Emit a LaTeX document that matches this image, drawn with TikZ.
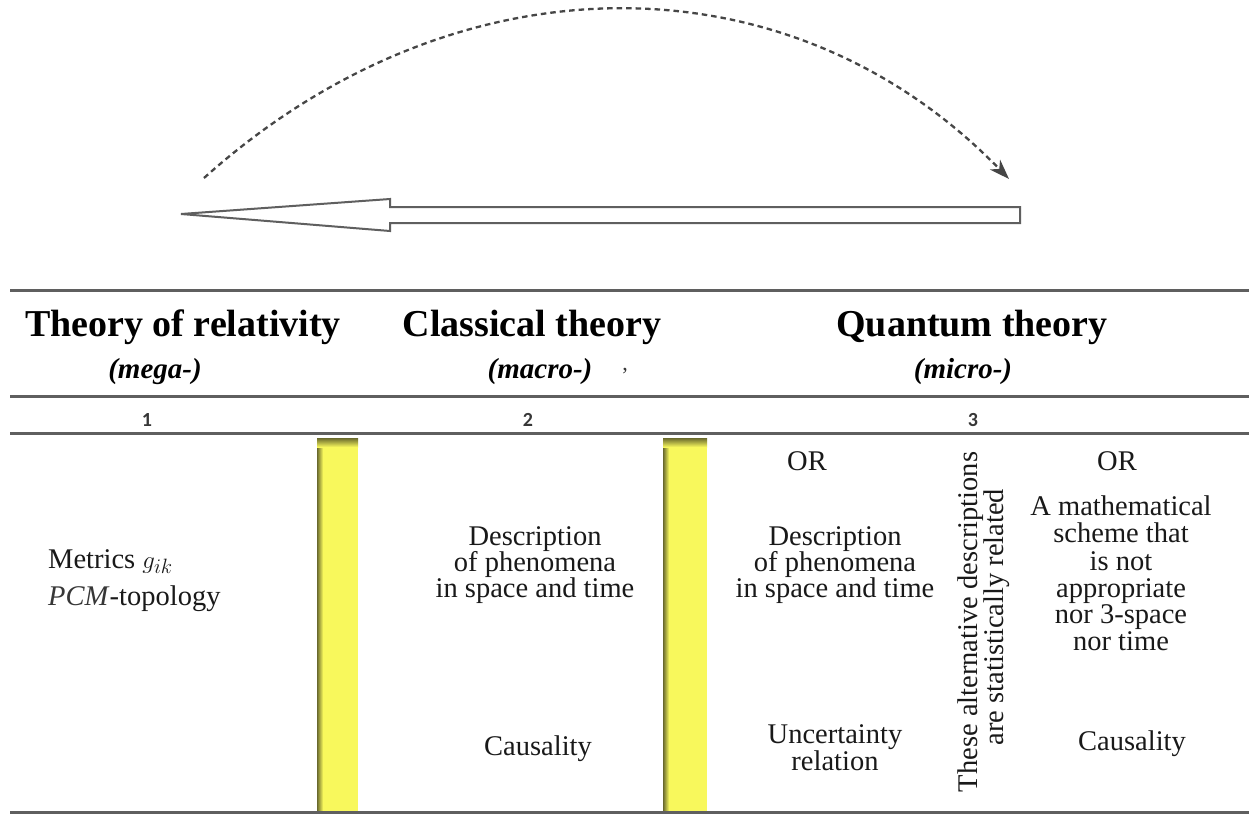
\documentclass[tikz,border=0pt]{standalone}
\usepackage{fontspec}
\setmainfont{Liberation Serif}
\newfontfamily\numfont{Carlito}
\usetikzlibrary{arrows.meta}
\definecolor{barY}{RGB}{248,248,92}
\definecolor{barD}{RGB}{105,105,45}
\definecolor{rulec}{RGB}{95,95,95}
\definecolor{ink}{RGB}{25,25,25}
\definecolor{numc}{RGB}{55,55,55}
\definecolor{dashc}{RGB}{70,70,70}
\begin{document}
\begin{tikzpicture}[x=1pt,y=-1pt,
  hdr/.style={font=\fontsize{38}{40}\selectfont\bfseries, text=black, anchor=base, inner sep=0pt},
  subhdr/.style={font=\fontsize{29}{30}\selectfont\bfseries\itshape, text=black, anchor=base, inner sep=0pt},
  numlbl/.style={font=\numfont\bfseries\fontsize{20}{22}\selectfont, text=numc, anchor=base, inner sep=0pt},
  body/.style={font=\fontsize{28.5}{30}\selectfont, text=ink, anchor=base, inner sep=0pt},
  rulel/.style={draw=rulec, line width=3pt},
  hollow/.style={draw=rulec, line width=2pt, fill=white, line join=miter},
  arcline/.style={draw=dashc, line width=2.3pt, dash pattern=on 5.5pt off 4pt},
]
\useasboundingbox (0,0) rectangle (1249,814);
\fill[white] (0,0) rectangle (1249,814);

% ---- top arrows ----
\coordinate (arcS) at (204,178);
\coordinate (arcE) at (1009,179);
\draw[arcline, -{Stealth[length=20pt,width=14pt,inset=6pt]}] (arcS) .. controls (455,-47) and (790,-47) .. (arcE);

\coordinate (tip) at (181,214);
\coordinate (tail) at (1020,215);
\draw[hollow] (tip) -- (390,199) -- (390,207) -- (tail |- 0,207) -- (tail |- 0,223) -- (390,223) -- (390,231) -- cycle;

% ---- yellow bars ----
\foreach \xa/\xb in {317/358, 663/707}{
  \fill[barY] (\xa,438) rectangle (\xb,812);
  \shade[left color=barD, right color=barY] (\xa,438) rectangle (\xa+6,812);
  \shade[top color=barD, bottom color=barY] (\xa,438) rectangle (\xb,447);
}

% ---- table rules ----
\draw[rulel] (10,290) -- (1249,290);
\draw[rulel] (10,396) -- (1249,396);
\draw[rulel] (10,433) -- (1249,433);
\draw[rulel] (10,812) -- (1249,812);

% ---- headers ----
\node[hdr] (h1) at (183,336) {Theory of relativity};
\node[hdr] (h2) at (532,336) {Classical theory};
\node[hdr] (h3) at (972,336) {Quantum theory};
\node[subhdr] (s1) at (155,378) {(mega-)};
\node[subhdr] (s2) at (540,378) {(macro-)};
\node[body, font=\fontsize{22}{22}\selectfont, text=numc] (s2c) at (625,370) {,};
\node[subhdr] (s3) at (963,378) {(micro-)};

\node[numlbl] (n1) at (147,426) {1};
\node[numlbl] (n2) at (528,426) {2};
\node[numlbl] (n3) at (973,426) {3};

% ---- column 1 ----
\node[body, anchor=base west] (m1) at (48,568) {Metrics $g_{ik}$};
\node[body, anchor=base west, text=numc] (m2) at (48,605) {\textit{PCM}\textcolor{ink}{-topology}};

% ---- column 2 ----
\node[body] (c2a) at (535,545) {Description};
\node[body] (c2b) at (535,571) {of phenomena};
\node[body] (c2c) at (535,597) {in space and time};
\node[body] (c2d) at (538,755) {Causality};

% ---- column 3a ----
\node[body] (q1) at (807,470) {OR};
\node[body] (q2) at (835,545) {Description};
\node[body] (q3) at (835,571) {of phenomena};
\node[body] (q4) at (835,597) {in space and time};
\node[body] (q5) at (835,743) {Uncertainty};
\node[body] (q6) at (835,770) {relation};

% ---- vertical text ----
\node[body, rotate=90] (v1) at (977,622) {These alternative descriptions};
\node[body, rotate=90] (v2) at (1003,617) {are statistically related};

% ---- column 3b ----
\node[body] (r1) at (1117,470) {OR};
\node[body] (r2) at (1121,515) {A mathematical};
\node[body] (r3) at (1121,542) {scheme that};
\node[body] (r4) at (1121,570) {is not};
\node[body] (r5) at (1121,597) {appropriate};
\node[body] (r6) at (1121,623) {nor 3-space};
\node[body] (r7) at (1121,650) {nor time};
\node[body] (r8) at (1132,750) {Causality};
\end{tikzpicture}
\end{document}
